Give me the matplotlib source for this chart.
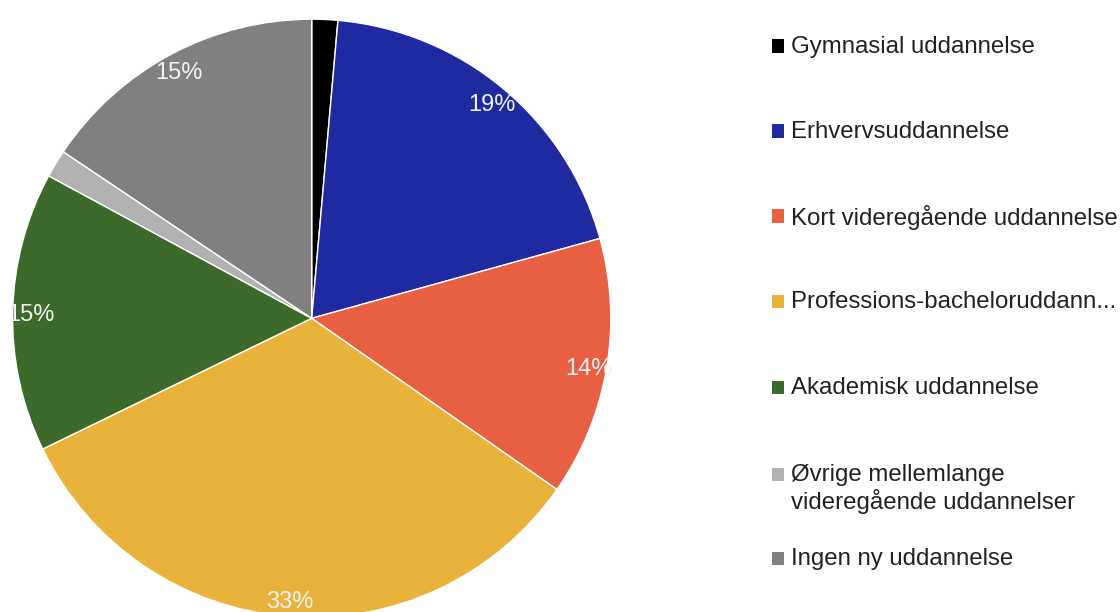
import matplotlib
matplotlib.use("Agg")
import matplotlib.pyplot as plt
import matplotlib.transforms as mtransforms
from matplotlib.patches import Rectangle

categories = [
    "Gymnasial uddannelse",
    "Erhvervsuddannelse",
    "Kort videregående uddannelse",
    "Professions-bacheloruddann...",
    "Akademisk uddannelse",
    "Øvrige mellemlange\nvideregående uddannelser",
    "Ingen ny uddannelse",
]
values = [1.4, 19.3, 14.0, 33.1, 15.1, 1.5, 15.6]
pct_labels = ["", "19%", "14%", "33%", "15%", "", "15%"]
colors = ["#000000", "#202AA0", "#E85F42", "#E9B33B", "#3B6A2B", "#B2B2B2", "#808080"]

plt.rcParams["font.family"] = ["Liberation Sans", "DejaVu Sans"]

W, H = 1120, 612
fig = plt.figure(figsize=(W / 100, H / 100), dpi=100)
fig.patch.set_facecolor("white")

# pie axes: center (311.7, 318.3) px, radius ~299 px
ax = fig.add_axes([11.7 / W, (H - 618.3) / H, 600 / W, 600 / H])

wedges, texts = ax.pie(
    values,
    colors=colors,
    startangle=90,
    counterclock=False,
    radius=0.997,
    labels=pct_labels,
    labeldistance=0.94,
    wedgeprops=dict(edgecolor="white", linewidth=1),
    textprops=dict(color="#F2F2F2", fontsize=17),
)
shift = mtransforms.ScaledTranslation(0, -3 / 100, fig.dpi_scale_trans)
for t in texts:
    t.set_horizontalalignment("center")
    t.set_verticalalignment("center")
    t.set_transform(t.get_transform() + shift)
ax.set_xlim(-1, 1)
ax.set_ylim(-1, 1)
ax.set_aspect("equal")
ax.axis("off")

# legend drawn manually
marker_y = [46, 131, 216, 301, 387, 474, 558]
line_gap = 27
for cat, col, y in zip(categories, colors, marker_y):
    nlines = cat.count("\n") + 1
    fig.patches.append(
        Rectangle((772 / W, 1 - (y + 6.5) / H), 12 / W, 13 / H,
                  transform=fig.transFigure, facecolor=col, edgecolor="none")
    )
    ty = y + 1.5 + (nlines - 1) * line_gap / 2
    fig.text(791 / W, 1 - ty / H, cat, fontsize=17.3, color="#222222",
             va="center", ha="left", linespacing=1.12)

fig.savefig("out.png", dpi=100, facecolor="white")
